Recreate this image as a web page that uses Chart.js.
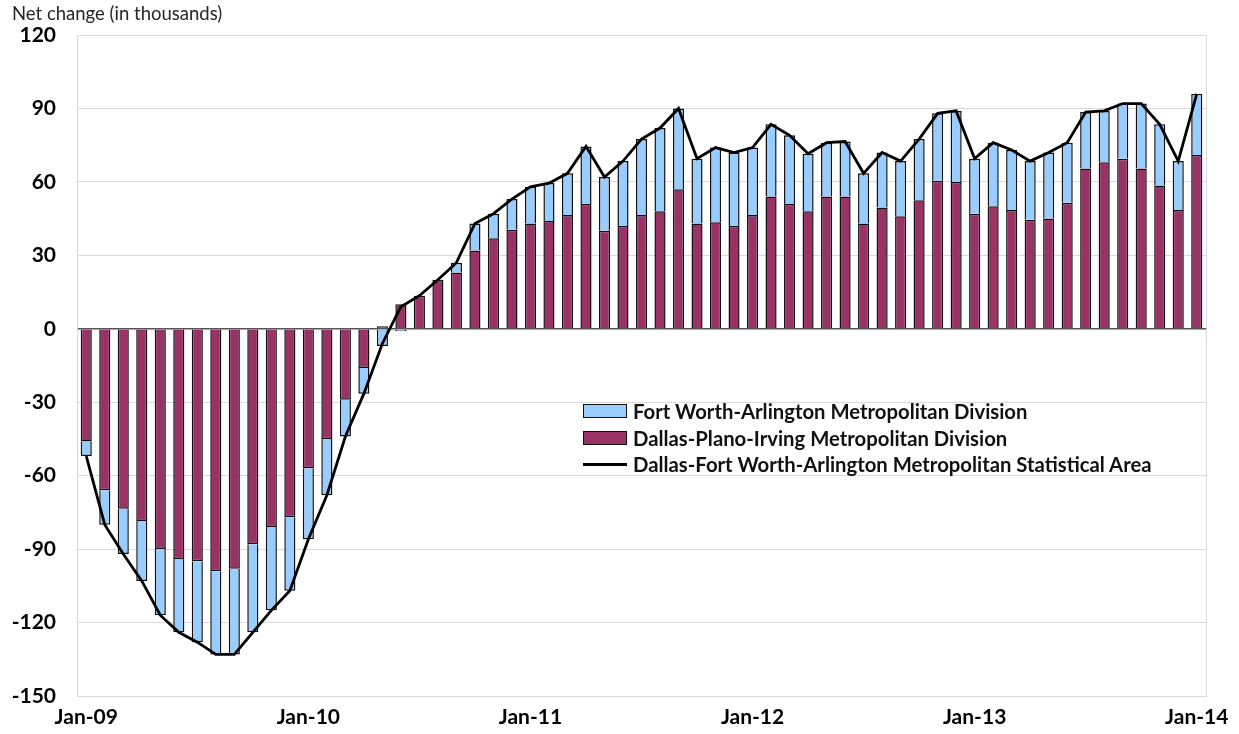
<!DOCTYPE html>
<html>
<head>
<meta charset="utf-8">
<title>Nonfarm employment net change</title>
<script src="https://cdn.jsdelivr.net/npm/chart.js@4.4.0/dist/chart.umd.min.js"></script>
<style>
  body { margin: 0; background: #fff; }
  #wrap { position: relative; width: 1239px; height: 734px; }
  #unit { position: absolute; left: 12px; top: 2px; font: 18.5px Lato, sans-serif; color: #262626; }
  #legend { position: absolute; left: 583px; top: 398px; font: bold 20.3px Lato, sans-serif; color: #111; }
  .item { display: flex; align-items: center; height: 26.5px; white-space: nowrap; }
  .sw { width: 44px; height: 14px; border: 1.5px solid #111; box-sizing: border-box; margin-right: 6px; }
  .ln { width: 44px; height: 3px; background: #000; margin-right: 6px; }
</style>
</head>
<body>
<div id="wrap">
  <canvas id="jobsChart"></canvas>
  <div id="unit">Net change (in thousands)</div>
  <div id="legend"></div>
</div>
<script>
// Months, Jan-09 .. Jan-14
const months = [
  "Jan-09","Feb-09","Mar-09","Apr-09","May-09","Jun-09","Jul-09","Aug-09","Sep-09","Oct-09","Nov-09","Dec-09",
  "Jan-10","Feb-10","Mar-10","Apr-10","May-10","Jun-10","Jul-10","Aug-10","Sep-10","Oct-10","Nov-10","Dec-10",
  "Jan-11","Feb-11","Mar-11","Apr-11","May-11","Jun-11","Jul-11","Aug-11","Sep-11","Oct-11","Nov-11","Dec-11",
  "Jan-12","Feb-12","Mar-12","Apr-12","May-12","Jun-12","Jul-12","Aug-12","Sep-12","Oct-12","Nov-12","Dec-12",
  "Jan-13","Feb-13","Mar-13","Apr-13","May-13","Jun-13","Jul-13","Aug-13","Sep-13","Oct-13","Nov-13","Dec-13",
  "Jan-14"
];
const tickLabels = ["Jan-09", "Jan-10", "Jan-11", "Jan-12", "Jan-13", "Jan-14"];

// Dallas-Plano-Irving (net change, thousands)
const dallas = [
  -46, -66, -73.5, -78.5, -90, -94, -95, -99, -98, -88, -81, -77,
  -57, -45, -29, -16, 1, 10, 13.5, 20, 23, 32, 37, 40.5,
  43, 44, 46.5, 51, 40, 42, 46.5, 48, 57, 43, 43.5, 42,
  46.5, 54, 51, 48, 54, 54, 43, 49.5, 46, 52.5, 60.5, 60,
  47, 50, 48.5, 44.5, 45, 51.5, 65.5, 68, 69.5, 65.5, 58.5, 48.5,
  71
];

// Fort Worth-Arlington
const fortWorth = [
  -6, -14, -18.5, -24.5, -27, -30, -33, -34, -35, -36, -34, -30,
  -29, -23, -15, -10.5, -7, -1, 0, 0, 4, 11, 10, 12.5,
  15, 15.5, 17, 23.5, 22, 26.5, 31, 34, 33, 26.5, 30.5, 30,
  27.5, 29.5, 28, 23.5, 22, 22.5, 20.5, 22.5, 22.5, 25, 27.5, 29,
  22.5, 26, 24.5, 24, 27, 24.5, 23, 21, 22.5, 26.5, 25, 20,
  25
];

// Dallas-Fort Worth-Arlington MSA total
const msaTotal = [
  -52, -80, -92, -103, -117, -124, -128, -133, -133, -124, -115, -107,
  -86, -68, -44, -26.5, -6, 9, 13.5, 20, 27, 43, 47, 53,
  58, 59.5, 63.5, 74.5, 62, 68.5, 77.5, 82, 90, 69.5, 74, 72,
  74, 83.5, 79, 71.5, 76, 76.5, 63.5, 72, 68.5, 77.5, 88, 89,
  69.5, 76, 73, 68.5, 72, 76, 88.5, 89, 92, 92, 83.5, 68.5,
  96
];

const yTicks = [-150, -120, -90, -60, -30, 0, 30, 60, 90, 120];

const maroon = "#993366";
const lightBlue = "#99ccff";

Chart.defaults.font.family = "Lato, sans-serif";
Chart.defaults.color = "#000";

// light gray frame round the plot area
const frame = {
  id: "frame",
  afterDraw(chart) {
    const a = chart.chartArea, c = chart.ctx;
    c.save();
    c.strokeStyle = "#d9d9d9";
    c.lineWidth = 1;
    c.strokeRect(a.left + 0.5, a.top + 0.5, a.right - a.left, a.bottom - a.top);
    c.restore();
  }
};

new Chart(document.getElementById("jobsChart"), {
  type: "bar",
  data: {
    labels: months,
    datasets: [
      {
        label: "Dallas-Plano-Irving Metropolitan Division",
        data: dallas,
        backgroundColor: maroon,
        borderColor: "#111",
        borderWidth: 1.5,
        stack: "div",
        order: 2
      },
      {
        label: "Fort Worth-Arlington Metropolitan Division",
        data: fortWorth,
        backgroundColor: lightBlue,
        borderColor: "#111",
        borderWidth: 1.5,
        stack: "div",
        order: 2
      },
      {
        type: "line",
        label: "Dallas-Fort Worth-Arlington Metropolitan Statistical Area",
        data: msaTotal,
        borderColor: "#000",
        borderWidth: 2.8,
        pointRadius: 0,
        tension: 0,
        stack: "msa",
        order: 1
      }
    ]
  },
  options: {
    responsive: true,
    maintainAspectRatio: false,
    animation: false,
    layout: { padding: { top: 35, right: 33, left: 0, bottom: 0 } },
    datasets: { bar: { categoryPercentage: 1, barPercentage: 0.6 } },
    plugins: { legend: { display: false }, tooltip: { enabled: false } },
    scales: {
      x: {
        stacked: true,
        grid: { display: false, drawTicks: false },
        border: { color: "#d9d9d9" },
        afterFit: s => { s.height = 38; },
        ticks: {
          autoSkip: false,
          maxRotation: 0,
          padding: 9,
          font: { size: 21, weight: "bold" },
          callback: function (v) {
            const l = this.getLabelForValue(v);
            return tickLabels.includes(l) ? l : "";
          }
        }
      },
      y: {
        stacked: true,
        min: yTicks[0],
        max: yTicks[yTicks.length - 1],
        afterFit: s => { s.width = 77; },
        afterBuildTicks: s => { s.ticks = yTicks.map(v => ({ value: v })); },
        border: { color: "#d9d9d9" },
        grid: {
          drawTicks: false,
          color: c => c.tick && c.tick.value === 0 ? "#555" : "#d9d9d9",
          lineWidth: c => c.tick && c.tick.value === 0 ? 1.5 : 1
        },
        ticks: { padding: 21, font: { size: 21, weight: "bold" } }
      }
    }
  },
  plugins: [frame]
});

// Legend drawn as HTML, in the reference's order
const legendItems = [
  { name: "Fort Worth-Arlington Metropolitan Division", color: lightBlue, kind: "box" },
  { name: "Dallas-Plano-Irving Metropolitan Division", color: maroon, kind: "box" },
  { name: "Dallas-Fort Worth-Arlington Metropolitan Statistical Area", color: "#000", kind: "line" }
];
const legend = document.getElementById("legend");
legendItems.forEach(it => {
  const row = document.createElement("div");
  row.className = "item";
  const sw = document.createElement("span");
  sw.className = it.kind === "box" ? "sw" : "ln";
  sw.style.background = it.color;
  const txt = document.createElement("span");
  txt.textContent = it.name;
  row.appendChild(sw);
  row.appendChild(txt);
  legend.appendChild(row);
});
</script>
</body>
</html>
